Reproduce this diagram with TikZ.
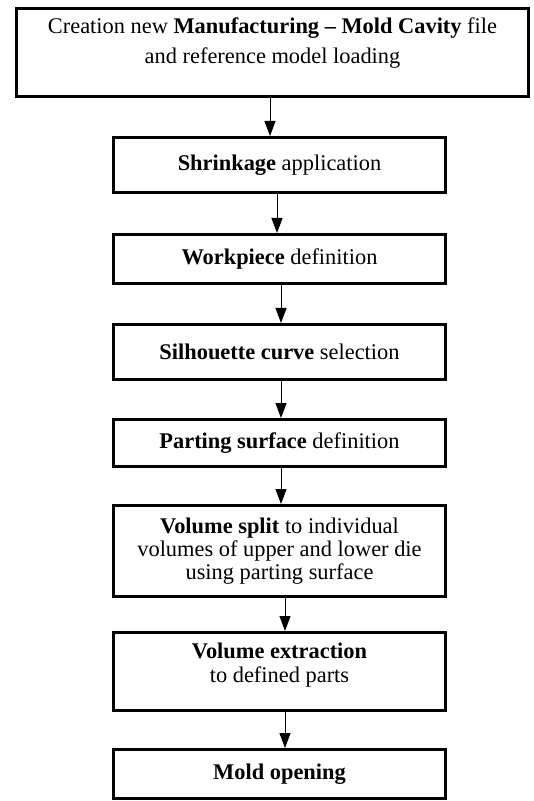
\documentclass[tikz,border=0pt]{standalone}
\usepackage{fontspec}
\setmainfont{Liberation Serif}
\usetikzlibrary{arrows.meta}

\begin{document}
\begin{tikzpicture}[x=0.5pt, y=-0.5pt, >={Triangle[length=7.5pt,width=5.5pt]},
    box/.style={draw, line width=1.5pt, align=center, inner sep=0pt,
        minimum width=166pt, font=\fontsize{11.2}{12}\selectfont},
    flow/.style={->, line width=0.5pt}]

    % 画布范围
    \useasboundingbox (0,0) rectangle (534,801);

    % 1. 顶部大框
    \node[box, minimum width=256pt, minimum height=44pt,
          font=\fontsize{11.2}{15}\selectfont] (b1) at (272.5,52.5)
        {Creation new \textbf{Manufacturing -- Mold Cavity} file\\
         and reference model loading\\[-3pt]\mbox{}};

    % 2. 流程各步骤
    \node[box, minimum height=27.5pt] (b2) at (279.5,165) {\textbf{Shrinkage} application};
    \node[box, minimum height=24.5pt] (b3) at (279.5,259) {\textbf{Workpiece} definition};
    \node[box, minimum height=27.5pt] (b4) at (279.5,352) {\textbf{Silhouette curve} selection};
    \node[box, minimum height=23.5pt] (b5) at (279.5,443) {\textbf{Parting surface} definition};
    \node[box, minimum height=45.5pt, font=\fontsize{11.2}{11.5}\selectfont] (b6) at (279.5,551)
        {\textbf{Volume split} to individual\\ volumes of upper and lower die\\ using parting surface};
    \node[box, minimum height=39pt] (b7) at (279.5,671.5)
        {\textbf{Volume extraction}\\ to defined parts\\[-3.6pt]\mbox{}};
    \node[box, minimum height=24.5pt] (b8) at (279.5,774) {\textbf{Mold opening}};

    % 3. 步骤之间的箭头
    \foreach \a/\b/\dx in {b1/b2/-1.25, b2/b3/-1.25, b3/b4/0.75, b4/b5/0.75,
                           b5/b6/0.75, b6/b7/2.75, b7/b8/2.75}
        \draw[flow] ([xshift=\dx pt]\a.south) -- ([xshift=\dx pt]\a.south |- \b.north);

\end{tikzpicture}
\end{document}
